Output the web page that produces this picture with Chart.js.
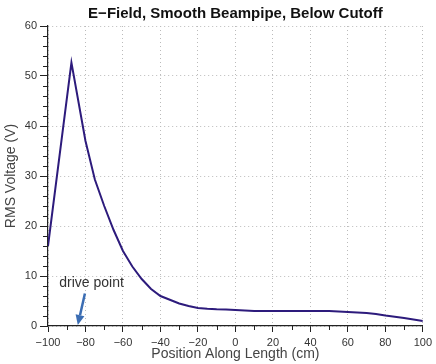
<!DOCTYPE html>
<html>
<head>
<meta charset="utf-8">
<script src="https://cdn.jsdelivr.net/npm/chart.js@4.4.1/dist/chart.umd.min.js"></script>
<style>
  body { margin: 0; background: #fff; }
  canvas { display: block; }
</style>
</head>
<body>
<canvas id="grafico" width="436" height="364"></canvas>
<script>
// position along the length (cm) and the RMS voltage
const posiciones = [-100, -87.5, -80, -75, -70, -65, -60, -55, -50, -45, -40, -35, -30, -25, -20,
  -15, -10, -5, 0, 10, 20, 30, 40, 50, 60, 70, 75, 80, 90, 100];
const voltajes = [16, 52.7, 37, 29.3, 24.0, 19.2, 15.0, 11.9, 9.4, 7.4, 6.0, 5.25, 4.5, 4.0, 3.6,
  3.45, 3.35, 3.3, 3.2, 3.0, 3.0, 3.0, 3.0, 3.0, 2.8, 2.6, 2.4, 2.1, 1.6, 1.0];

const xTicks = [-100, -80, -60, -40, -20, 0, 20, 40, 60, 80, 100];
const yTicks = [0, 10, 20, 30, 40, 50, 60];

const titulo = 'E\u2212Field, Smooth Beampipe, Below Cutoff';
const tituloX = 'Position Along Length (cm)';
const tituloY = 'RMS Voltage (V)';

// annotation, in data units
const textoDrive = 'drive point';
const textoPos = [-94, 7.8];
const flechaDesde = [-80.3, 6.5];
const flechaHasta = [-84.1, 0.2];

const puntos = posiciones.map((x, i) => ({ x: x, y: voltajes[i] }));
const fuente = "'Liberation Sans', Arial, sans-serif";

const menos = v => String(v).replace('-', '\u2212');

// small ticks between the labelled ones
const ticksMenores = {
  id: 'ticksMenores',
  afterDraw(chart) {
    const ctx = chart.ctx;
    const x = chart.scales.x, y = chart.scales.y;
    ctx.save();
    ctx.strokeStyle = '#222';
    ctx.lineWidth = 1;
    ctx.beginPath();
    for (let v = -90; v <= 90; v += 20) {
      const px = Math.round(x.getPixelForValue(v)) + 0.5;
      ctx.moveTo(px, y.bottom);
      ctx.lineTo(px, y.bottom + 4);
    }
    for (let v = 2; v < 60; v += 2) {
      if (v % 10 === 0) continue;
      const py = Math.round(y.getPixelForValue(v)) + 0.5;
      ctx.moveTo(x.left, py);
      ctx.lineTo(x.left - 5, py);
    }
    ctx.stroke();
    ctx.restore();
  }
};

const anotacion = {
  id: 'anotacion',
  afterDraw(chart) {
    const ctx = chart.ctx;
    const x = chart.scales.x, y = chart.scales.y;
    ctx.save();
    ctx.font = "14px " + fuente;
    ctx.fillStyle = '#333';
    ctx.textBaseline = 'alphabetic';
    ctx.fillText(textoDrive, x.getPixelForValue(textoPos[0]), y.getPixelForValue(textoPos[1]));

    const x1 = x.getPixelForValue(flechaDesde[0]), y1 = y.getPixelForValue(flechaDesde[1]);
    const x2 = x.getPixelForValue(flechaHasta[0]), y2 = y.getPixelForValue(flechaHasta[1]);
    const ang = Math.atan2(y2 - y1, x2 - x1);
    const largo = 10, ancho = 4.5;
    const bx = x2 - largo * Math.cos(ang), by = y2 - largo * Math.sin(ang);
    ctx.strokeStyle = '#3b6db3';
    ctx.fillStyle = '#3b6db3';
    ctx.lineWidth = 2.5;
    ctx.beginPath();
    ctx.moveTo(x1, y1);
    ctx.lineTo(bx, by);
    ctx.stroke();
    ctx.beginPath();
    ctx.moveTo(x2, y2);
    ctx.lineTo(bx + ancho * Math.sin(ang), by - ancho * Math.cos(ang));
    ctx.lineTo(bx - ancho * Math.sin(ang), by + ancho * Math.cos(ang));
    ctx.closePath();
    ctx.fill();
    ctx.restore();
  }
};

new Chart(document.getElementById('grafico'), {
  type: 'line',
  data: {
    datasets: [{
      data: puntos,
      borderColor: '#2d1b7c',
      borderWidth: 2,
      pointRadius: 0,
      tension: 0,
      fill: false
    }]
  },
  options: {
    responsive: false,
    animation: false,
    devicePixelRatio: 1,
    layout: { padding: { right: 10 } },
    plugins: {
      legend: { display: false },
      tooltip: { enabled: false },
      title: {
        display: true,
        fullSize: false,
        text: titulo,
        color: '#111',
        font: { family: fuente, size: 15, weight: 'bold', lineHeight: 1.2 },
        padding: { top: 5, bottom: 3 }
      }
    },
    scales: {
      x: {
        type: 'linear',
        min: -100,
        max: 100,
        afterFit: s => { s.height = 38; },
        afterBuildTicks: s => { s.ticks = xTicks.map(v => ({ value: v })); },
        ticks: {
          callback: menos,
          color: '#333',
          font: { family: fuente, size: 11 },
          padding: 4,
          maxRotation: 0,
          autoSkip: false
        },
        grid: {
          color: '#bbb',
          lineWidth: 1,
          tickColor: '#222',
          tickLength: 6,
          tickBorderDash: []
        },
        border: { color: '#222', width: 1.2, dash: [1, 3] },
        title: {
          display: true,
          text: tituloX,
          color: '#444',
          font: { family: fuente, size: 14 },
          padding: { top: 0, bottom: 1 }
        }
      },
      y: {
        min: 0,
        max: 60,
        afterFit: s => { s.width = 48; },
        afterBuildTicks: s => { s.ticks = yTicks.map(v => ({ value: v })); },
        ticks: {
          callback: menos,
          color: '#333',
          font: { family: fuente, size: 11 },
          padding: 3
        },
        grid: {
          color: '#bbb',
          lineWidth: 1,
          tickColor: '#222',
          tickLength: 8,
          tickBorderDash: []
        },
        border: { color: '#222', width: 1.2, dash: [1, 3] },
        title: {
          display: true,
          text: tituloY,
          color: '#444',
          font: { family: fuente, size: 14 },
          padding: { top: 3, bottom: 0 }
        }
      }
    }
  },
  plugins: [ticksMenores, anotacion]
});
</script>
</body>
</html>
